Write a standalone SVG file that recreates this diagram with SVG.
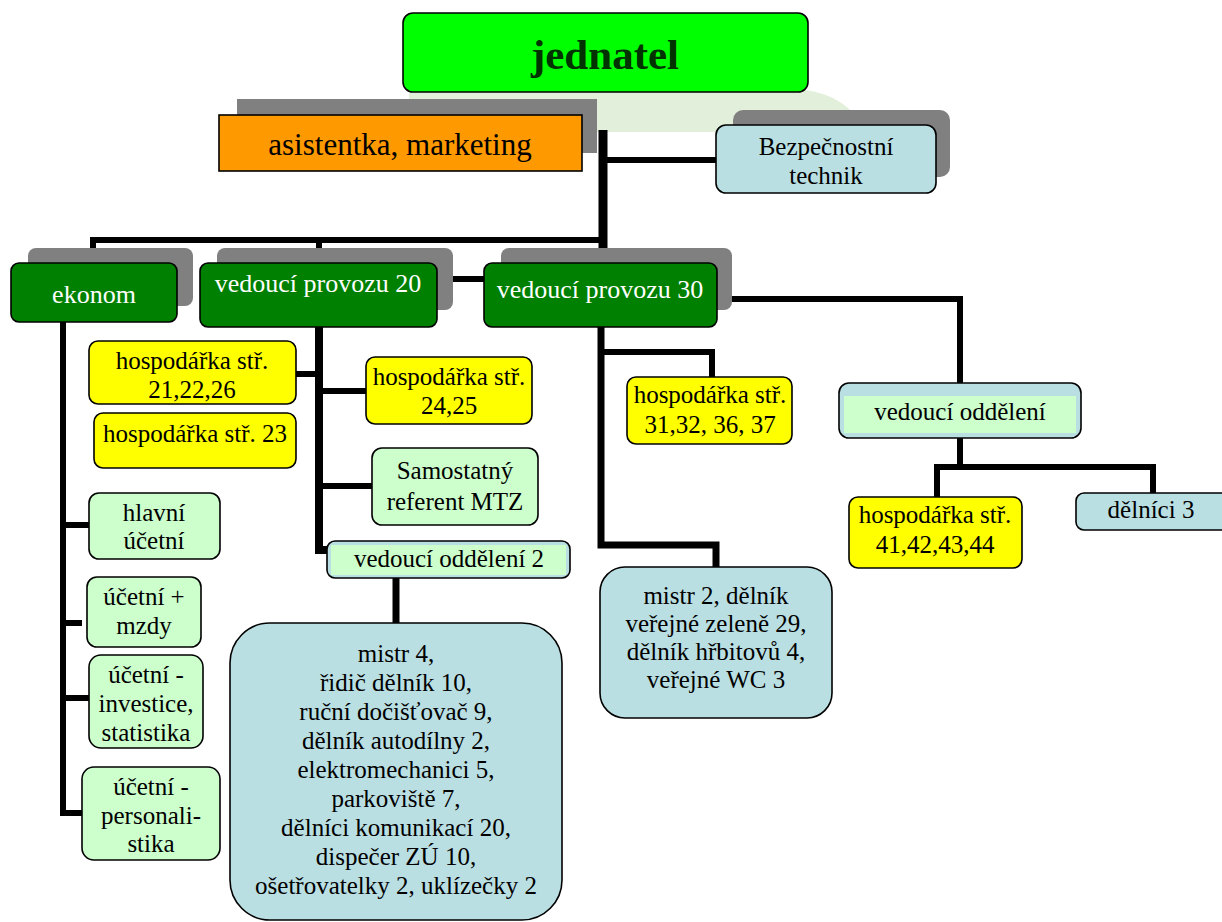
<svg xmlns="http://www.w3.org/2000/svg" width="1222" height="922" viewBox="0 0 1222 922">
<style>
.b{stroke:#000;stroke-width:1.6}
.sh{fill:#808080}
.gr{fill:#008000}
.yl{fill:#ffff00}
.lg{fill:#ccffcc}
.lb{fill:#badfe3}
text{font-family:'Liberation Serif','Times New Roman',serif;font-size:25px;text-anchor:middle;fill:#000}
.w{fill:#fff;font-size:26px}
.big{font-size:43px;font-weight:bold;fill:#003300}
.as{font-size:31px}
.c{stroke:#000;fill:none;stroke-linejoin:miter;stroke-linecap:butt}
</style>
<rect width="1222" height="922" fill="#fff"/>
<g id="jednatel-shadow">
<path d="M409,90 L805,90 Q835,94 852,112 L852,132 L409,132 Z" fill="#e2efda"/>
</g>
<g id="connectors">
<path class="c" stroke-width="9" d="M603,130 V250"/>
<path class="c" stroke-width="6" d="M90,240 H606 M93,240 V252 M319,240 V252"/>
<path class="c" stroke-width="6" d="M603,160 H716"/>
<path class="c" stroke-width="6" d="M437,279 H485"/>
<path class="c" stroke-width="6" d="M716,299 H960 V383"/>
<path class="c" stroke-width="6" d="M960,438 V467 M937,497 V467 H1153 V493"/>
<path class="c" stroke-width="7" d="M601,327 V545 H716 V567"/>
<path class="c" stroke-width="6" d="M601,352 H712 V377"/>
<path class="c" stroke-width="8" d="M319,327 V550 H327"/>
<path class="c" stroke-width="6" d="M296,374 H319 M319,391 H366 M319,486 H372"/>
<path class="c" stroke-width="7" d="M396,578 V623"/>
<path class="c" stroke-width="6" d="M63,318 V816"/>
<path class="c" stroke-width="6" d="M63,525 H89 M63,623 H82 M63,698 H89 M63,813 H82"/>
</g>
<g id="jednatel">
<rect class="b" x="403" y="13" width="405" height="79" rx="10" fill="#00ff00"/>
<text class="big" x="605" y="69">jednatel</text>
</g>
<g id="asistentka">
<rect class="sh" x="237" y="99" width="360" height="54"/>
<rect class="b" x="219" y="115" width="363" height="56" fill="#ff9900"/>
<text class="as" x="400" y="155">asistentka, marketing</text>
</g>
<g id="bezpecnostni">
<rect class="sh" x="733" y="110" width="217" height="67" rx="10"/>
<rect class="b lb" x="716" y="125" width="220" height="68" rx="10"/>
<text x="826" y="155">Bezpečnostní</text>
<text x="826" y="184">technik</text>
</g>
<g id="ekonom">
<rect class="sh" x="28" y="248" width="165" height="58" rx="8"/>
<rect class="b gr" x="11" y="263" width="166" height="59" rx="8"/>
<text class="w" x="94" y="303">ekonom</text>
</g>
<g id="vp20">
<rect class="sh" x="217" y="248" width="236" height="62" rx="8"/>
<rect class="b gr" x="200" y="263" width="237" height="64" rx="8"/>
<text class="w" x="318" y="292">vedoucí provozu 20</text>
</g>
<g id="vp30">
<rect class="sh" x="501" y="248" width="231" height="62" rx="8"/>
<rect class="b gr" x="484" y="263" width="233" height="64" rx="8"/>
<text class="w" x="600" y="298">vedoucí provozu 30</text>
</g>
<g id="hosp21">
<rect class="b yl" x="89" y="341" width="207" height="63" rx="9"/>
<text x="192" y="369">hospodářka stř.</text>
<text x="192" y="398">21,22,26</text>
</g>
<g id="hosp23">
<rect class="b yl" x="94" y="413" width="202" height="55" rx="9"/>
<text x="195" y="442">hospodářka stř. 23</text>
</g>
<g id="hosp24">
<rect class="b yl" x="366" y="357" width="166" height="67" rx="9"/>
<text x="449" y="385">hospodářka stř.</text>
<text x="449" y="414">24,25</text>
</g>
<g id="mtz">
<rect class="b lg" x="372" y="448" width="166" height="77" rx="10"/>
<text x="455" y="479">Samostatný</text>
<text x="455" y="510">referent MTZ</text>
</g>
<g id="vedodd2">
<rect class="b lb" x="327" y="541" width="243" height="37" rx="8"/>
<rect class="lg" x="331" y="545" width="235" height="30"/>
<text x="449" y="567">vedoucí oddělení 2</text>
</g>
<g id="mistr4">
<rect class="b lb" x="230" y="623" width="332" height="297" rx="40"/>
<text x="396" y="662">mistr 4,</text>
<text x="396" y="691">řidič dělník 10,</text>
<text x="396" y="720">ruční dočišťovač 9,</text>
<text x="396" y="749">dělník autodílny 2,</text>
<text x="396" y="778">elektromechanici 5,</text>
<text x="396" y="807">parkoviště 7,</text>
<text x="396" y="836">dělníci komunikací 20,</text>
<text x="396" y="865">dispečer ZÚ 10,</text>
<text x="396" y="894">ošetřovatelky 2, uklízečky 2</text>
</g>
<g id="hlavni">
<rect class="b lg" x="89" y="493" width="131" height="66" rx="10"/>
<text x="154" y="521">hlavní</text>
<text x="154" y="549">účetní</text>
</g>
<g id="mzdy">
<rect class="b lg" x="87" y="577" width="114" height="70" rx="10"/>
<text x="144" y="605">účetní +</text>
<text x="144" y="634">mzdy</text>
</g>
<g id="investice">
<rect class="b lg" x="89" y="655" width="114" height="93" rx="12"/>
<text x="146" y="683">účetní -</text>
<text x="146" y="712">investice,</text>
<text x="146" y="741">statistika</text>
</g>
<g id="personalistika">
<rect class="b lg" x="82" y="767" width="138" height="93" rx="12"/>
<text x="151" y="795">účetní -</text>
<text x="151" y="824">personali-</text>
<text x="151" y="852">stika</text>
</g>
<g id="hosp31">
<rect class="b yl" x="627" y="377" width="165" height="67" rx="9"/>
<text x="710" y="403">hospodářka stř.</text>
<text x="710" y="433">31,32, 36, 37</text>
</g>
<g id="mistr2">
<rect class="b lb" x="600" y="567" width="232" height="151" rx="25"/>
<text x="716" y="604">mistr 2, dělník</text>
<text x="716" y="632">veřejné zeleně 29,</text>
<text x="716" y="660">dělník hřbitovů 4,</text>
<text x="716" y="688">veřejné WC 3</text>
</g>
<g id="vedodd">
<rect class="b lb" x="839" y="383" width="242" height="55" rx="10"/>
<rect class="lg" x="844" y="396" width="232" height="37"/>
<text x="960" y="420">vedoucí oddělení</text>
</g>
<g id="hosp41">
<rect class="b yl" x="849" y="497" width="173" height="71" rx="9"/>
<text x="935" y="523">hospodářka stř.</text>
<text x="935" y="553">41,42,43,44</text>
</g>
<g id="delnici3">
<rect class="b lb" x="1076" y="493" width="160" height="37" rx="8"/>
<text x="1151" y="518">dělníci 3</text>
</g>
</svg>
